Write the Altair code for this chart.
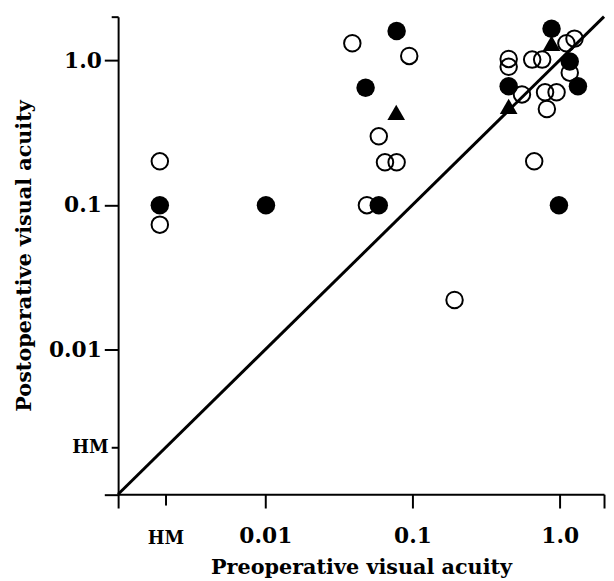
import altair as alt
import pandas as pd

HM = 0.0021
DOMAIN = [0.001, 2.0]

# open circles
open_pre = [0.00192, 0.00192, 0.039, 0.095, 0.059, 0.065, 0.078, 0.049, 0.193,
            0.45, 0.45, 0.65, 0.76, 1.17, 0.554, 0.795, 0.952, 0.818, 0.671, 1.11, 1.26]
open_post = [0.2, 0.073, 1.31, 1.07, 0.298, 0.197, 0.197, 0.0995, 0.022,
             1.02, 0.9, 1.01, 1.01, 0.82, 0.58, 0.6, 0.6, 0.46, 0.2, 1.31, 1.41]
# filled circles
fill_pre = [0.00192, 0.0101, 0.078, 0.048, 0.059, 0.88, 1.17, 1.33, 0.45, 0.988]
fill_post = [0.0995, 0.0995, 1.59, 0.646, 0.0995, 1.65, 0.98, 0.66, 0.66, 0.0995]
# triangles
tri_pre = [0.0775, 0.45, 0.88]
tri_post = [0.436, 0.48, 1.31]

# identity line
line_vals = [0.001, 2.0]

TICKS = [0.001, HM, 0.01, 0.1, 1.0, 2.0]
LABEL_EXPR = ("datum.value < 0.0015 || datum.value > 1.5 ? '' : "
              "datum.value < 0.005 ? 'HM' : datum.value < 0.05 ? '0.01' : "
              "datum.value < 0.5 ? '0.1' : '1.0'")
IS_HM = "datum.value > 0.0015 && datum.value < 0.005"

df_open = pd.DataFrame({"pre": open_pre, "post": open_post})
df_fill = pd.DataFrame({"pre": fill_pre, "post": fill_post})
df_tri = pd.DataFrame({"pre": tri_pre, "post": tri_post})
df_line = pd.DataFrame({"pre": line_vals, "post": line_vals})

FONT = "DejaVu Serif"

xscale = alt.Scale(type="log", domain=DOMAIN, nice=False)
yscale = alt.Scale(type="log", domain=DOMAIN, nice=False)

x_axis = alt.Axis(
    values=TICKS, labelExpr=LABEL_EXPR, title="Preoperative visual acuity",
    grid=False, domainColor="black", domainWidth=2, tickColor="black", tickWidth=2,
    tickSize={"condition": {"test": IS_HM, "value": 11}, "value": 14},
    labelFont=FONT, labelFontWeight="bold", labelColor="black",
    labelFontSize={"condition": {"test": IS_HM, "value": 18}, "value": 22},
    labelPadding={"condition": {"test": IS_HM, "value": 25}, "value": 18},
    titleFont=FONT, titleFontWeight="bold", titleFontSize=21, titleColor="black",
    titlePadding=9, labelFlush=False, labelOverlap=False,
)
y_axis = alt.Axis(
    values=TICKS, labelExpr=LABEL_EXPR, title="Postoperative visual  acuity",
    grid=False, domainColor="black", domainWidth=2, tickColor="black", tickWidth=2,
    tickSize={"condition": {"test": IS_HM + " || datum.value > 1.5", "value": 7}, "value": 14},
    labelFont=FONT, labelFontWeight="bold", labelColor="black",
    labelFontSize={"condition": {"test": IS_HM, "value": 18}, "value": 22},
    labelPadding=3,
    titleFont=FONT, titleFontWeight="bold", titleFontSize=21, titleColor="black",
    titlePadding=14, labelFlush=False, labelOverlap=False,
)

x_enc = alt.X("pre:Q", scale=xscale, axis=x_axis)
y_enc = alt.Y("post:Q", scale=yscale, axis=y_axis)

line = alt.Chart(df_line).mark_line(color="black", strokeWidth=3).encode(x=x_enc, y=y_enc)
opens = alt.Chart(df_open).mark_point(shape="circle", filled=False, color="black",
                                       strokeWidth=2, size=279, opacity=1).encode(x=x_enc, y=y_enc)
fills = alt.Chart(df_fill).mark_point(shape="circle", filled=True, color="black",
                                       size=350, opacity=1).encode(x=x_enc, y=y_enc)
tris = alt.Chart(df_tri).mark_point(shape="triangle-up", filled=True, color="black",
                                     size=320, opacity=1).encode(x=x_enc, y=y_enc)

chart = alt.layer(line, opens, fills, tris).properties(
    width=492, height=483.5,
    autosize=alt.AutoSizeParams(type="none"),
    padding={"left": 111.5, "top": 5.2, "right": 2, "bottom": 84},
    background="white",
).configure_view(strokeWidth=0)

chart.save("out.html", embed_options={"renderer": "svg", "actions": False})
